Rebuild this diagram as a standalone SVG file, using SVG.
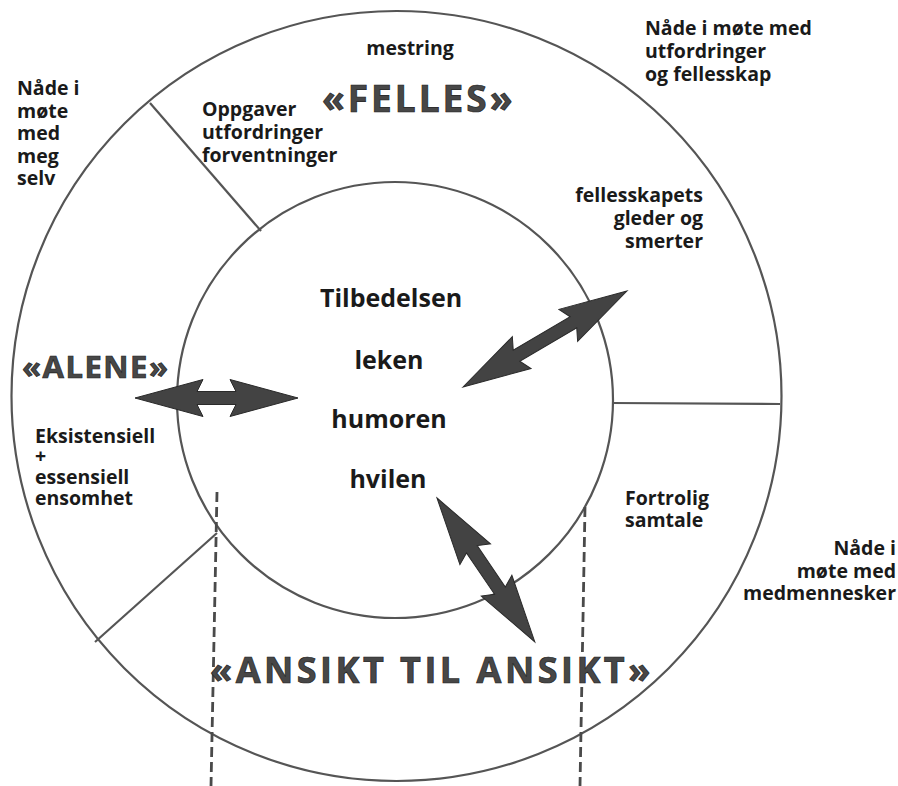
<svg xmlns="http://www.w3.org/2000/svg" width="898" height="786" viewBox="0 0 898 786">
<style>
.ring{fill:none;stroke:#555;stroke-width:2.2}
.sep{stroke:#555;stroke-width:2.2;fill:none}
.dash{stroke:#4a4a4a;stroke-width:2.8;stroke-dasharray:10 5;fill:none}
.lbl{font-family:"Open Sans","DejaVu Sans",sans-serif;font-weight:700;font-size:19.5px;fill:#1a1a1a}
.mid{font-family:"Open Sans","DejaVu Sans",sans-serif;font-weight:700;font-size:25px;fill:#1a1a1a;text-anchor:middle}
.title{font-family:"Open Sans","DejaVu Sans",sans-serif;font-weight:700;fill:#474747;stroke:#222;stroke-width:0.7}
.arr{fill:#434343;stroke:#2a2a2a;stroke-width:1}
</style>
<rect width="898" height="786" fill="#fff"/>
<g id="rings">
<circle class="ring" cx="396.5" cy="396" r="385"/>
<circle class="ring" cx="395" cy="400" r="218"/>
</g>
<g id="separators">
<line class="sep" x1="150" y1="103" x2="261" y2="231"/>
<line class="sep" x1="612" y1="403" x2="780" y2="404"/>
<line class="sep" x1="95" y1="642" x2="217" y2="533"/>
</g>
<g id="dashed">
<line class="dash" x1="217" y1="492" x2="211" y2="786"/>
<line class="dash" x1="585" y1="507" x2="580" y2="786"/>
</g>
<g id="connectors">
<path class="arr" transform="translate(135,398)" d="M0,0 L68,-18.5 L62,-6.5 L101,-6.5 L95,-18.5 L163,0 L95,18.5 L101,6.5 L62,6.5 L68,18.5 Z"/>
<path class="arr" transform="translate(463,387) rotate(-30.35)" d="M0,0 L68,-18.5 L62,-6.5 L128,-6.5 L122,-18.5 L190,0 L122,18.5 L128,6.5 L62,6.5 L68,18.5 Z"/>
<path class="arr" transform="translate(437,498) rotate(55.8)" d="M0,0 L68,-18.5 L62,-6.5 L112,-6.5 L106,-18.5 L174,0 L106,18.5 L112,6.5 L62,6.5 L68,18.5 Z"/>
</g>
<g id="felles">
<text class="lbl" x="410" y="55" text-anchor="middle" font-size="21">mestring</text>
<text class="title" x="322" y="112" font-size="37" letter-spacing="3">«FELLES»</text>
<text class="lbl" x="202"><tspan x="202" y="116">Oppgaver</tspan><tspan x="202" y="139">utfordringer</tspan><tspan x="202" y="162">forventninger</tspan></text>
<text class="lbl" text-anchor="end"><tspan x="703" y="202">fellesskapets</tspan><tspan x="703" y="225">gleder og</tspan><tspan x="703" y="248">smerter</tspan></text>
</g>
<g id="nade-felles">
<text class="lbl"><tspan x="645" y="35">Nåde i møte med</tspan><tspan x="645" y="58">utfordringer</tspan><tspan x="645" y="81">og fellesskap</tspan></text>
</g>
<g id="nade-selv">
<text class="lbl"><tspan x="17" y="95">Nåde i</tspan><tspan x="17" y="118">møte</tspan><tspan x="17" y="140">med</tspan><tspan x="17" y="163">meg</tspan><tspan x="17" y="185">selv</tspan></text>
</g>
<g id="alene">
<text class="title" x="22" y="378" font-size="31" letter-spacing="1.5">«ALENE»</text>
<text class="lbl"><tspan x="35" y="443">Eksistensiell</tspan><tspan x="35" y="463">+</tspan><tspan x="35" y="484">essensiell</tspan><tspan x="35" y="505">ensomhet</tspan></text>
</g>
<g id="center">
<text class="mid" x="391" y="307">Tilbedelsen</text>
<text class="mid" x="389" y="369">leken</text>
<text class="mid" x="389" y="428">humoren</text>
<text class="mid" x="388" y="488">hvilen</text>
</g>
<g id="ansikt">
<text class="lbl"><tspan x="625" y="505">Fortrolig</tspan><tspan x="625" y="527">samtale</tspan></text>
<text class="title" x="210" y="683" font-size="36" letter-spacing="3.5">«ANSIKT TIL ANSIKT»</text>
</g>
<g id="nade-medmennesker">
<text class="lbl" text-anchor="end"><tspan x="896" y="555">Nåde i</tspan><tspan x="896" y="578">møte med</tspan><tspan x="896" y="600">medmennesker</tspan></text>
</g>
</svg>
